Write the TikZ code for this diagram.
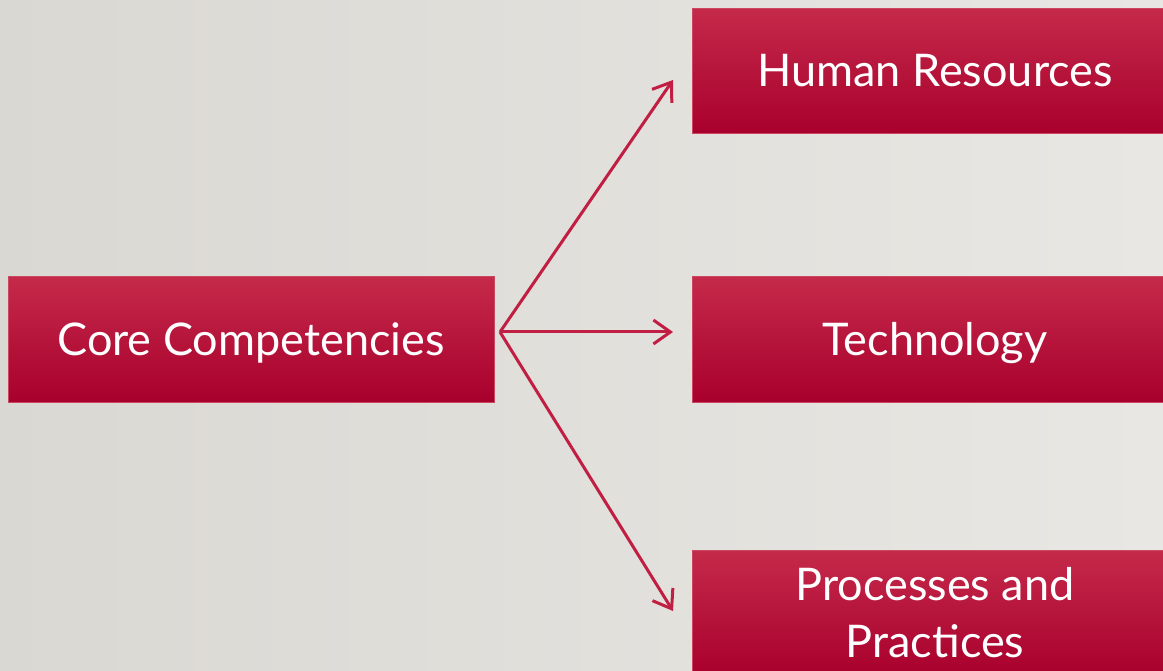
\documentclass[tikz,border=0pt]{standalone}
\usepackage{fontspec}
\setmainfont{Lato}
\usetikzlibrary{arrows.meta}
\definecolor{bgL}{HTML}{DAD8D3}
\definecolor{bgR}{HTML}{E9E7E3}
\definecolor{boxT}{HTML}{C52A4A}
\definecolor{boxB}{HTML}{A8002D}
\definecolor{boxE}{HTML}{C9475F}
\definecolor{arr}{HTML}{C01E42}
\tikzset{
  rbox/.style={rectangle, draw=boxE, line width=1pt, top color=boxT, bottom color=boxB,
    minimum width=486pt, minimum height=125pt, text=white, align=center,
    font=\fontsize{45}{57}\selectfont, inner sep=0pt},
  onel/.style={text height=40pt, text depth=8pt},
  link/.style={draw=arr, line width=3pt, -{Straight Barb[length=17pt,width=24pt,line width=3pt]}}
}
\begin{document}
\begin{tikzpicture}[x=1pt,y=-1pt]
\useasboundingbox (0,0) rectangle (1163,671);
\clip (0,0) rectangle (1163,671);
\shade[left color=bgL, right color=bgR] (0,0) rectangle (1163,671);
\node[rbox, onel] (core) at (251,339.5) {Core Competencies};
\node[rbox, onel] (hr) at (935,71) {Human Resources};
\node[rbox, onel] (tech) at (935,339.5) {Technology};
\node[rbox] (proc) at (935,612.5) {Processes and\\Practices};
\coordinate (o) at (500,332);
\coordinate (t1) at (673,80);
\coordinate (t2) at (673,332);
\coordinate (t3) at (673,611);
\draw[link] (o) -- (t1);
\draw[link] (o) -- (t2);
\draw[link] (o) -- (t3);
\end{tikzpicture}
\end{document}
